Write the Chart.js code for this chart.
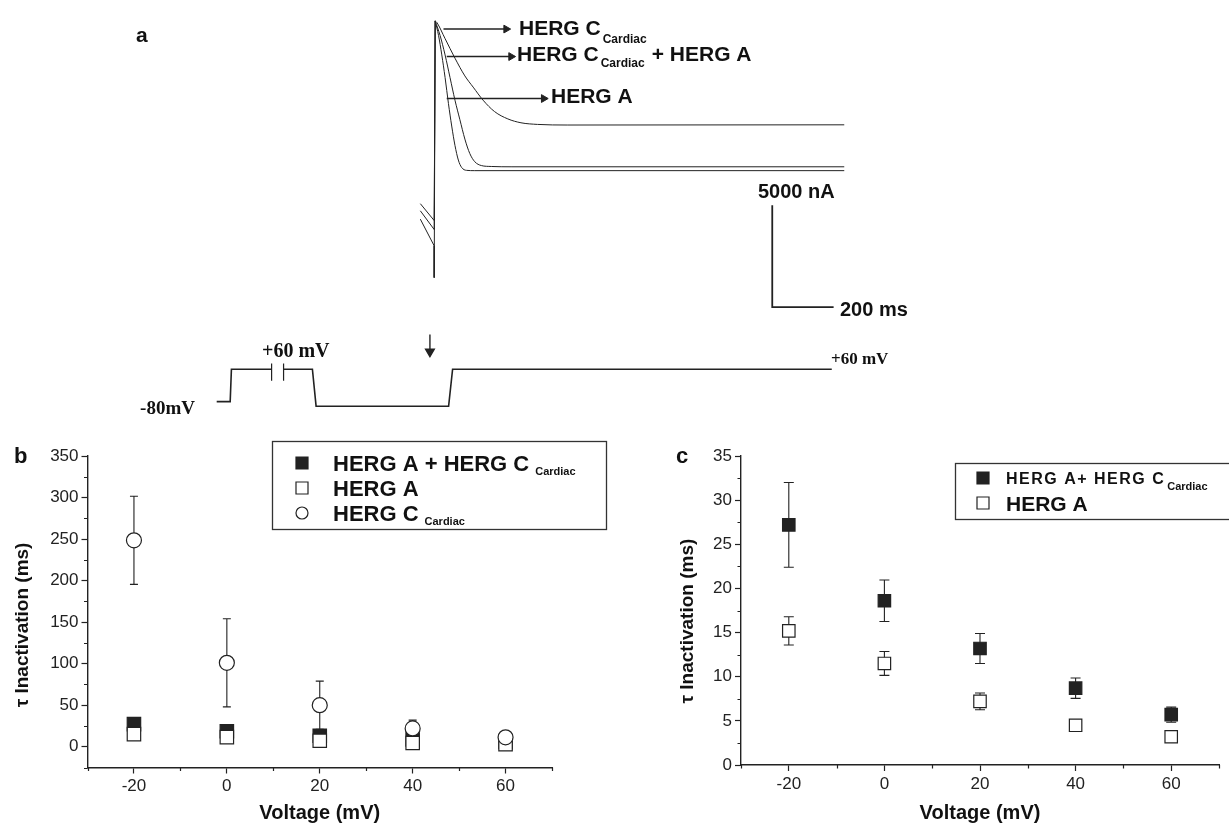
<!DOCTYPE html>
<html>
<head>
<meta charset="utf-8">
<script src="https://cdn.jsdelivr.net/npm/chart.js@4.4.1/dist/chart.umd.min.js"></script>
<style>
html, body { margin: 0; padding: 0; background: #fff; }
#page { position: relative; width: 1229px; height: 826px; overflow: hidden; background: #fff; }
canvas { position: absolute; }
#chartA { left: 0; top: 0; }
#chartB { left: 0; top: 430px; }
#chartC { left: 640px; top: 430px; }
</style>
</head>
<body>
<div id="page">
  <canvas id="chartA" width="1229" height="430"></canvas>
  <canvas id="chartB" width="620" height="396"></canvas>
  <canvas id="chartC" width="589" height="396"></canvas>
</div>
<script>
// ---- panel a : current traces, time in ms, current in nA (0 = HERG A steady state)
const tC  = [4.2, 9.7, 36.5, 68.7, 101, 128, 160.3, 197.7, 241, 283.9, 337.7, 434.5, 1337.7];
const iC  = [7350, 7270, 6480, 5520, 4650, 4100, 3460, 2900, 2540, 2350, 2270, 2240, 2250];
const tCA = [4.2, 20.3, 36.5, 52.6, 68.7, 84.8, 101, 117.1, 133.2, 154.8, 187.1, 251.6, 1337.7];
const iCA = [7350, 6630, 5680, 4570, 3460, 2500, 1550, 840, 440, 250, 205, 190, 190];
const tA  = [4.2, 15.2, 25.8, 36.5, 47.4, 58.1, 68.7, 79.7, 90.3, 106.5, 133.2, 1337.7];
const iA  = [7350, 6630, 5680, 4570, 3300, 2190, 1240, 520, 160, 15, 0, 0];

// capacitive onset before the peak
const tOnsetC = [-44.2, 1.0, 4.2];          const iOnsetC = [-1620, -2450, 7350];
const tOnsetCA = [-44.2, 1.0, 4.2];         const iOnsetCA = [-1970, -2890, 7350];
const tOnsetA = [-44.2, 1.0, 1.0, 4.2];     const iOnsetA = [-2380, -3690, -5250, 7350];

// label arrows (start/end time, current level)
const arrowT0 = [31.3, 41.9, 41.9];
const arrowT1 = [235.5, 251.6, 358];
const arrowI  = [6950, 5600, 3540];

// scale bars
const barT = [1103, 1103, 1303];
const barI = [-1700, -6700, -6700];

// voltage protocol (ms, mV)
const tProt = [-708, -664, -660, -529, -510, -490, -396, -384, 48, 61, 1297];
const vProt = [-80, -80, 60, 60, null, 60, 60, -100, -100, 60, 60];
const tBreak = [-529, -490];
const vBreak = [10, 85];
const tPulseArrow = -12.9;
const vPulseArrow = [211, 136];

// ---- panels b and c : voltage (mV) vs tau inactivation (ms)
const voltages = [-20, 0, 20, 40, 60];
const tauAC    = [27.2, 18.6, 13.2, 8.7, 5.7];
const errAC    = [4.8, 2.35, 1.7, 1.15, 0.85];
const tauA     = [15.2, 11.5, 7.2, 4.5, 3.2];
const errA     = [1.6, 1.35, 0.95, 0.2, 0.45];
const tauC     = [248.5, 101, 50, 22, 11.3];
const errC     = [53, 53, 29, 10, 4];

const ink = '#222';
const sans = '"Liberation Sans", Arial, Helvetica, sans-serif';
const serif = '"Liberation Serif", "Times New Roman", serif';

const pts = (xs, ys) => xs.map((x, i) => ({x: x, y: ys[i]}));

function text(ctx, str, x, y, font, align) {
  ctx.font = font;
  ctx.textAlign = align || 'left';
  ctx.textBaseline = 'alphabetic';
  ctx.fillText(str, x, y);
  return x + ctx.measureText(str).width;
}

// main text followed by a subscript, returns x at end
function subText(ctx, main, sub, x, y, size, subSize, drop) {
  let end = text(ctx, main, x, y, 'bold ' + size + 'px ' + sans);
  return text(ctx, sub, end + 2, y + drop, 'bold ' + subSize + 'px ' + sans);
}

// ---------------- panel a ----------------
const textA = {
  id: 'textA',
  afterDraw(chart) {
    const ctx = chart.ctx;
    ctx.save();
    ctx.fillStyle = '#111';
    text(ctx, 'a', 136, 42, 'bold 21px ' + sans);
    subText(ctx, 'HERG C', 'Cardiac', 519, 35, 21, 12, 8);
    let e = subText(ctx, 'HERG C', 'Cardiac', 517, 61, 21, 12, 6);
    text(ctx, '+ HERG A', e + 7, 61, 'bold 21px ' + sans);
    text(ctx, 'HERG A', 551, 103, 'bold 21px ' + sans);
    text(ctx, '5000 nA', 758, 198, 'bold 20px ' + sans);
    text(ctx, '200 ms', 840, 316, 'bold 20px ' + sans);
    text(ctx, '-80mV', 195, 414, 'bold 19px ' + serif, 'right');
    text(ctx, '+60 mV', 262, 357, 'bold 20px ' + serif);
    text(ctx, '+60 mV', 831, 364, 'bold 17px ' + serif);
    ctx.restore();
  }
};

const traceDs = (xs, ys, smooth) => ({
  data: pts(xs, ys), yAxisID: 'yI', showLine: true, borderColor: ink, borderWidth: 1.0,
  pointRadius: 0, cubicInterpolationMode: smooth ? 'monotone' : 'default', tension: 0
});
const arrowDs = (i) => ({
  data: pts([arrowT0[i], arrowT1[i]], [arrowI[i], arrowI[i]]), yAxisID: 'yI', showLine: true,
  borderColor: ink, borderWidth: 1.5, pointStyle: 'triangle', pointRotation: 90,
  pointRadius: [0, 4.5], pointBackgroundColor: ink, pointBorderColor: ink, pointBorderWidth: 1
});

new Chart(document.getElementById('chartA'), {
  type: 'scatter',
  data: {
    datasets: [
      traceDs(tC, iC, true), traceDs(tCA, iCA, true), traceDs(tA, iA, true),
      traceDs(tOnsetC, iOnsetC), traceDs(tOnsetCA, iOnsetCA), traceDs(tOnsetA, iOnsetA),
      arrowDs(0), arrowDs(1), arrowDs(2),
      Object.assign(traceDs(barT, barI), {borderWidth: 1.8}),
      {data: pts(tProt, vProt), yAxisID: 'yV', showLine: true, spanGaps: false,
       borderColor: ink, borderWidth: 1.6, pointRadius: 0},
      {data: pts([tBreak[0], tBreak[0]], vBreak), yAxisID: 'yV', showLine: true, borderColor: ink, borderWidth: 1.2, pointRadius: 0},
      {data: pts([tBreak[1], tBreak[1]], vBreak), yAxisID: 'yV', showLine: true, borderColor: ink, borderWidth: 1.2, pointRadius: 0},
      {data: pts([tPulseArrow, tPulseArrow], vPulseArrow), yAxisID: 'yV', showLine: true,
       borderColor: ink, borderWidth: 1.4, pointStyle: 'triangle', pointRotation: 180,
       pointRadius: [0, 5], pointBackgroundColor: ink, pointBorderColor: ink}
    ]
  },
  options: {
    responsive: false, animation: false,
    layout: {padding: 0},
    plugins: {legend: {display: false}, tooltip: {enabled: false}},
    scales: {
      x:  {type: 'linear', display: false, min: -1393.5, max: 2571},
      yI: {type: 'linear', axis: 'y', display: false, min: -12415, max: 8062},
      yV: {type: 'linear', axis: 'y', display: false, min: -175.4, max: 1632}
    }
  },
  plugins: [textA]
});

// ---------------- panels b and c ----------------
const errorBars = {
  id: 'errorBars',
  beforeDatasetsDraw(chart, args, opts) {
    const ctx = chart.ctx, ys = chart.scales.y;
    ctx.save();
    ctx.strokeStyle = ink;
    ctx.lineWidth = 1.1;
    chart.data.datasets.forEach((ds, i) => {
      if (!ds.errors) return;
      chart.getDatasetMeta(i).data.forEach((pt, j) => {
        const v = ds.data[j].y, e = ds.errors[j];
        const top = ys.getPixelForValue(v + e), bot = ys.getPixelForValue(v - e);
        ctx.beginPath();
        ctx.moveTo(pt.x, top); ctx.lineTo(pt.x, bot);
        ctx.moveTo(pt.x - opts.cap, top); ctx.lineTo(pt.x + opts.cap, top);
        ctx.moveTo(pt.x - opts.cap, bot); ctx.lineTo(pt.x + opts.cap, bot);
        ctx.stroke();
      });
    });
    ctx.restore();
  }
};

// shorter ticks between the labelled ones
const minorTicks = {
  id: 'minorTicks',
  afterDraw(chart, args, opts) {
    const ctx = chart.ctx, area = chart.chartArea;
    const xs = chart.scales.x, ys = chart.scales.y;
    ctx.save();
    ctx.strokeStyle = ink;
    ctx.lineWidth = 1.2;
    ctx.beginPath();
    xs.ticks.forEach(t => {
      if (t.value % opts.majorX !== 0) {
        const px = Math.round(xs.getPixelForValue(t.value)) + 0.5;
        ctx.moveTo(px, area.bottom); ctx.lineTo(px, area.bottom + opts.len);
      }
    });
    ys.ticks.forEach(t => {
      if (t.value % opts.majorY !== 0) {
        const py = Math.round(ys.getPixelForValue(t.value)) + 0.5;
        ctx.moveTo(area.left, py); ctx.lineTo(area.left - opts.len, py);
      }
    });
    ctx.stroke();
    ctx.restore();
  }
};

function drawMarker(ctx, kind, x, y, s) {
  ctx.lineWidth = 1.2;
  ctx.strokeStyle = ink;
  ctx.beginPath();
  if (kind === 'circle') ctx.arc(x, y, s / 2, 0, Math.PI * 2);
  else ctx.rect(x - s / 2, y - s / 2, s, s);
  ctx.fillStyle = kind === 'filled' ? ink : '#fff';
  ctx.fill();
  ctx.stroke();
}

// legend with subscripts, drawn by hand
const boxLegend = {
  id: 'boxLegend',
  afterDraw(chart, args, opts) {
    const ctx = chart.ctx, b = opts.box;
    ctx.save();
    ctx.strokeStyle = '#333';
    ctx.lineWidth = 1.3;
    ctx.strokeRect(b.x, b.y, b.w, b.h);
    opts.rows.forEach(r => {
      drawMarker(ctx, r.marker, opts.markerX, r.y, opts.markerSize);
      ctx.fillStyle = '#111';
      ctx.letterSpacing = (r.spacing || 0) + 'px';
      let end = text(ctx, r.label, opts.textX, r.y + r.size * 0.36, 'bold ' + r.size + 'px ' + sans);
      ctx.letterSpacing = '0px';
      if (r.sub) text(ctx, r.sub, end + (r.gap || 1), r.y + r.size * 0.36 + r.drop, 'bold ' + r.subSize + 'px ' + sans);
    });
    ctx.fillStyle = '#111';
    text(ctx, opts.letter.t, opts.letter.x, opts.letter.y, 'bold 22px ' + sans);
    ctx.restore();
  }
};

function panelOptions(cfg) {
  const isMajorY = v => v % cfg.majorY === 0;
  return {
    responsive: false, animation: false,
    layout: {padding: {left: 0, right: cfg.padRight, top: 26, bottom: 0}},
    plugins: {
      legend: {display: false}, tooltip: {enabled: false},
      errorBars: {cap: cfg.cap},
      minorTicks: {majorX: 20, majorY: cfg.majorY, len: 3.5},
      boxLegend: cfg.legend
    },
    scales: {
      x: {
        type: 'linear', min: -30, max: 70,
        afterFit: s => { s.height = cfg.xHeight; },
        border: {display: true, color: ink, width: 1.4},
        grid: {drawOnChartArea: false, tickLength: 6, tickWidth: 1.2,
               tickColor: c => (c.tick && c.tick.value % 20 === 0) ? ink : 'rgba(0,0,0,0)'},
        ticks: {stepSize: 10, padding: 3, color: '#222', font: {family: sans, size: 17},
                maxRotation: 0, autoSkip: false,
                callback: v => v % 20 === 0 ? v : ''},
        title: {display: true, text: 'Voltage (mV)', color: '#111',
                font: {family: sans, size: 20, weight: 'bold'}, padding: {top: 0, bottom: 1}}
      },
      y: {
        type: 'linear', min: cfg.yMin, max: cfg.yMax,
        afterFit: s => { s.width = cfg.yWidth; },
        border: {display: true, color: ink, width: 1.4},
        grid: {drawOnChartArea: false, tickLength: 6, tickWidth: 1.2,
               tickColor: c => (c.tick && isMajorY(c.tick.value)) ? ink : 'rgba(0,0,0,0)'},
        ticks: {stepSize: cfg.yStep, padding: 3, color: '#222', font: {family: sans, size: 17},
                autoSkip: false, callback: v => isMajorY(v) ? v : ''},
        // trailing spaces nudge the rotated title down to where the original sits
        title: {display: true, text: 'τ Inactivation (ms)' + cfg.titleTail, color: '#111',
                font: {family: sans, size: 19, weight: 'bold'}, padding: {top: cfg.titlePad, bottom: 0}}
      }
    }
  };
}

const scatterDs = (ys, errs, kind, r) => ({
  data: pts(voltages, ys), errors: errs,
  pointStyle: kind === 'circle' ? 'circle' : 'rect', pointRadius: r,
  pointBackgroundColor: kind === 'filled' ? ink : '#fff',
  pointBorderColor: ink, pointBorderWidth: 1.2, showLine: false
});

new Chart(document.getElementById('chartB'), {
  type: 'scatter',
  data: {
    datasets: [
      scatterDs(tauC, errC, 'circle', 7.5),
      scatterDs(tauA, errA, 'open', 9.5),
      scatterDs(tauAC, errAC, 'filled', 9.5)
    ]
  },
  options: panelOptions({
    yMin: -25, yMax: 350, yStep: 25, majorY: 50, yWidth: 87.5, xHeight: 58.5,
    padRight: 68, titlePad: 11, titleTail: '     ', cap: 4,
    legend: {
      box: {x: 272.5, y: 11.5, w: 334, h: 88}, markerX: 302, markerSize: 12, textX: 333,
      rows: [
        {marker: 'filled', y: 33, label: 'HERG A + HERG C', size: 22, sub: 'Cardiac', subSize: 11, drop: 4, gap: 6},
        {marker: 'open', y: 58, label: 'HERG A', size: 22},
        {marker: 'circle', y: 83, label: 'HERG C', size: 22, sub: 'Cardiac', subSize: 11, drop: 4, gap: 6}
      ],
      letter: {t: 'b', x: 14, y: 33}
    }
  }),
  plugins: [errorBars, minorTicks, boxLegend]
});

new Chart(document.getElementById('chartC'), {
  type: 'scatter',
  data: {
    datasets: [
      scatterDs(tauA, errA, 'open', 8.8),
      scatterDs(tauAC, errAC, 'filled', 8.8)
    ]
  },
  options: panelOptions({
    yMin: 0, yMax: 35, yStep: 2.5, majorY: 5, yWidth: 101, xHeight: 61,
    padRight: 4, titlePad: 36, titleTail: '    ', cap: 5,
    legend: {
      box: {x: 315.5, y: 33.5, w: 280, h: 56}, markerX: 343, markerSize: 12, textX: 366,
      rows: [
        {marker: 'filled', y: 48, label: 'HERG A+ HERG C', size: 16, spacing: 1.5, sub: 'Cardiac', subSize: 11, drop: 6, gap: 2},
        {marker: 'open', y: 73, label: 'HERG A', size: 21}
      ],
      letter: {t: 'c', x: 36, y: 33}
    }
  }),
  plugins: [errorBars, minorTicks, boxLegend]
});
</script>
</body>
</html>
